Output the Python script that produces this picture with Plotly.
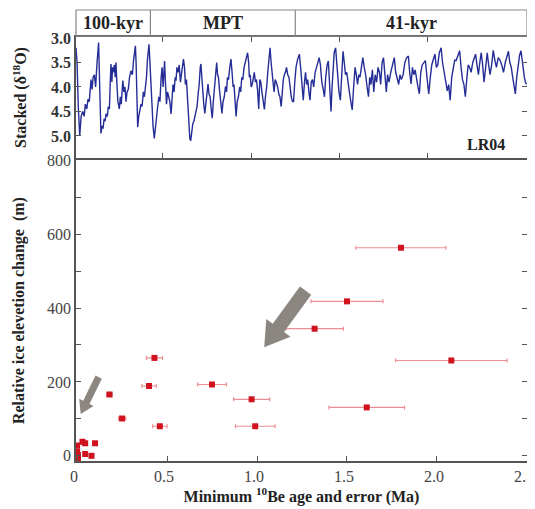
import math
import plotly.graph_objects as go

# LR04 stacked benthic d18O, age in Ma
lr04_age = [0.009, 0.015, 0.022, 0.030, 0.038, 0.047, 0.055, 0.062, 0.070, 0.077, 0.084, 0.090, 0.094, 0.100, 0.106, 0.113, 0.120, 0.128, 0.133, 0.137,
            0.141, 0.146, 0.150, 0.156, 0.162, 0.168, 0.174, 0.179, 0.186, 0.192, 0.198, 0.203, 0.207, 0.212, 0.216, 0.220, 0.226, 0.231, 0.235, 0.240,
            0.246, 0.254, 0.260, 0.265, 0.270, 0.274, 0.280, 0.286, 0.292, 0.298, 0.305, 0.312, 0.320, 0.328, 0.335, 0.340, 0.345, 0.349, 0.353, 0.358,
            0.364, 0.370, 0.377, 0.383, 0.390, 0.396, 0.402, 0.408, 0.413, 0.418, 0.422, 0.426, 0.432, 0.438, 0.445, 0.452,
            0.458, 0.465, 0.471, 0.478, 0.484, 0.490, 0.496, 0.502, 0.506, 0.510, 0.515, 0.521, 0.527, 0.533, 0.540, 0.547, 0.553, 0.558, 0.564, 0.570,
            0.575, 0.580, 0.587, 0.593, 0.600, 0.606, 0.612, 0.617, 0.623, 0.628, 0.634, 0.640, 0.647, 0.653, 0.658,
            0.664, 0.670, 0.676, 0.682, 0.688, 0.694, 0.700, 0.706, 0.712, 0.716, 0.721, 0.727, 0.732, 0.738, 0.744, 0.750, 0.756, 0.762, 0.768, 0.774,
            0.780, 0.786, 0.792, 0.798, 0.805, 0.810, 0.815, 0.822, 0.829, 0.835, 0.841, 0.848, 0.855, 0.861, 0.866, 0.872, 0.879, 0.886, 0.892, 0.898,
            0.903, 0.909, 0.915, 0.921, 0.928, 0.935, 0.941, 0.947, 0.953, 0.960, 0.967, 0.974, 0.980, 0.986, 0.990, 0.995, 1.000, 1.006, 1.012, 1.018,
            1.024, 1.030, 1.036, 1.043, 1.049, 1.055, 1.061, 1.068, 1.075, 1.081, 1.088, 1.094, 1.100, 1.107, 1.113, 1.118, 1.124, 1.130, 1.136, 1.142,
            1.150, 1.157, 1.163, 1.170, 1.176, 1.182, 1.188, 1.194, 1.200, 1.207, 1.214, 1.220, 1.227, 1.234, 1.240, 1.247, 1.254,
            1.262, 1.273, 1.280, 1.288, 1.295, 1.302, 1.308, 1.314, 1.320, 1.327, 1.333, 1.340, 1.347, 1.354, 1.362, 1.370, 1.378, 1.385, 1.392, 1.400,
            1.408, 1.415, 1.422, 1.430, 1.437, 1.444, 1.452, 1.458, 1.464, 1.470, 1.478, 1.484, 1.490, 1.497, 1.505, 1.512, 1.520, 1.527, 1.534, 1.541,
            1.548, 1.556, 1.564, 1.572, 1.580, 1.588, 1.595, 1.602, 1.609, 1.616, 1.624, 1.632, 1.640, 1.648, 1.656, 1.664, 1.671, 1.678, 1.686, 1.694,
            1.702, 1.710, 1.718, 1.726, 1.733, 1.741, 1.749, 1.757, 1.765, 1.772, 1.780, 1.790, 1.800, 1.810, 1.818, 1.826, 1.835, 1.842, 1.850, 1.860,
            1.870, 1.880, 1.890,
            1.897, 1.905, 1.913, 1.920, 1.928, 1.936, 1.944, 1.952, 1.960, 1.968, 1.976, 1.986, 1.995, 2.005, 2.014, 2.022, 2.030, 2.040, 2.048, 2.056,
            2.065, 2.075, 2.083, 2.092, 2.100, 2.110, 2.118, 2.126, 2.135, 2.144, 2.152, 2.160, 2.170, 2.180, 2.188, 2.196, 2.204, 2.212, 2.220, 2.228,
            2.236, 2.245, 2.254, 2.262, 2.270, 2.278, 2.286, 2.294, 2.302, 2.310, 2.318, 2.327, 2.336, 2.344, 2.352, 2.361, 2.370, 2.379, 2.388, 2.398,
            2.408, 2.418, 2.428, 2.438, 2.448, 2.456, 2.464, 2.472, 2.480, 2.488, 2.495, 2.503, 2.511, 2.519, 2.527, 2.534, 2.540, 2.546, 2.552, 2.558]
lr04_d18o = [3.20, 3.50, 4.40, 5.00, 4.60, 4.50, 4.60, 4.35, 4.45, 4.25, 4.30, 3.95, 3.85, 4.05, 3.80, 3.75, 4.00, 3.50, 3.20, 3.09,
             3.70, 4.60, 4.95, 4.80, 4.85, 4.65, 4.70, 4.55, 4.60, 4.40, 4.45, 3.90, 3.53, 3.90, 3.60, 3.70, 3.55, 3.80, 3.50, 3.90,
             4.30, 4.45, 4.20, 4.35, 3.95, 3.87, 4.10, 4.00, 4.30, 4.10, 4.05, 3.80, 3.67, 3.75, 3.45, 3.25, 3.16, 3.50, 4.30, 4.82,
             4.60, 4.45, 4.35, 4.40, 4.10, 4.20, 4.00, 3.80, 3.45, 3.15, 3.13, 3.40, 3.90, 4.40, 4.80, 5.05,
             4.80, 4.50, 4.41, 4.20, 4.30, 3.85, 3.60, 4.00, 3.70, 3.47, 3.90, 4.35, 4.10, 4.20, 4.30, 4.55, 4.10, 3.95, 4.10, 3.80,
             3.87, 3.60, 3.70, 3.55, 3.90, 3.70, 3.60, 3.43, 3.60, 3.95, 3.85, 4.30, 4.70, 5.05, 5.10,
             4.85, 4.75, 4.70, 4.60, 4.50, 4.40, 4.15, 3.95, 3.60, 3.53, 3.80, 4.20, 4.35, 4.54, 4.30, 4.10, 3.94, 4.15, 4.20, 4.45,
             4.64, 4.30, 4.00, 3.70, 3.50, 3.75, 3.80, 4.10, 4.35, 4.54, 4.30, 4.20, 3.99, 4.10, 3.80, 3.85, 3.60, 3.43, 3.70, 4.00,
             3.95, 4.30, 4.60, 4.30, 4.20, 4.00, 4.10, 3.80, 3.85, 3.60, 3.50, 3.35, 3.30, 3.50, 3.80, 3.75, 4.00, 3.95, 3.80, 3.70,
             3.90, 3.85, 4.05, 4.45, 3.85, 3.90, 4.10, 4.30, 4.46, 4.20, 4.00, 3.70, 3.40, 3.20, 3.50, 3.75, 3.90, 4.10, 3.85, 3.90,
             4.00, 4.15, 4.20, 4.40, 4.10, 3.85, 3.75, 3.70, 3.60, 3.75, 3.80, 4.00, 4.20, 4.30, 4.30, 3.90, 3.60,
             3.45, 3.33, 3.60, 4.00, 4.27, 3.90, 3.70, 3.95, 3.85, 4.10, 4.27, 3.90, 3.85, 4.00, 3.70, 3.60, 3.45, 3.40, 3.55, 3.90,
             4.05, 4.20, 3.80, 3.55, 3.47, 3.90, 4.50, 4.00, 3.60, 3.30, 3.20, 3.50, 3.80, 4.10, 4.27, 3.70, 3.27, 3.50, 3.75, 3.70,
             3.85, 4.10, 4.30, 4.47, 4.00, 3.60, 3.75, 3.95, 3.75, 3.80, 3.60, 3.40, 3.60, 3.75, 4.00, 4.20, 3.80, 3.95, 3.65, 4.10,
             3.75, 3.90, 3.60, 3.70, 3.95, 3.50, 3.40, 3.75, 4.10, 3.75, 3.90, 3.70, 3.55, 3.40, 3.70, 3.85, 3.95, 3.75, 3.85, 3.75,
             3.50, 3.40, 3.37,
             3.70, 3.94, 3.60, 3.75, 3.65, 3.85, 4.00, 4.14, 3.70, 3.55, 3.50, 3.46, 3.80, 4.14, 3.80, 3.55, 3.45, 3.33, 3.60, 3.55,
             3.30, 3.20, 3.50, 3.70, 3.85, 4.08, 3.95, 4.27, 3.80, 3.60, 3.45, 3.46, 3.35, 3.26, 3.60, 3.85, 3.95, 4.20, 3.85, 3.55,
             3.60, 3.70, 3.50, 3.40, 3.33, 3.55, 3.75, 3.50, 3.30, 3.55, 3.90, 3.60, 3.30, 3.55, 3.75, 3.55, 3.25, 3.45, 3.60, 3.40,
             3.45, 3.55, 3.70, 3.50, 3.35, 3.27, 3.50, 3.60, 3.80, 3.95, 4.14, 3.80, 3.50, 3.35, 3.26, 3.50, 3.70, 3.80, 3.90, 3.95]

# minimum 10Be ages (Ma), age error (Ma) and relative ice elevation change (m)
be_age = [1.80, 1.50, 1.32, 2.08, 1.61, 0.97, 0.99, 0.75, 0.43, 0.40, 0.46, 0.18, 0.25,
          0.00, 0.03, 0.045, 0.10, 0.00, 0.005, 0.045, 0.08, 0.005]
be_err = [0.25, 0.20, 0.16, 0.31, 0.21, 0.10, 0.11, 0.08, 0.045, 0.04, 0.04, 0.015, 0.02,
          0.005, 0.005, 0.005, 0.005, 0.003, 0.003, 0.005, 0.005, 0.003]
elev = [563, 418, 344, 258, 131, 153, 80, 193, 265, 189, 80, 166, 101,
        28, 38, 34, 34, 12, 2, 5, 0, -8]

x_ticks = [0, 0.5, 1.0, 1.5, 2.0, 2.5]
x_ticktext = ['0', '0.5', '1.0', '1.5', '2.0', '2.5']
y_ticks = [0, 200, 400, 600, 800]
d18o_ticks = [3.0, 3.5, 4.0, 4.5, 5.0]
d18o_ticktext = ['3.0', '3.5', '4.0', '4.5', '5.0']
periods = ['100-kyr', 'MPT', '41-kyr']
period_edges = [0.009, 0.43, 1.25, 2.561]

# arrows: (tail age, tail elev, tip age, tip elev, body width px, head width px, head length px)
arrows = [(1.27, 447, 1.04, 294, 14, 30, 24),
          (0.12, 213, 0.02, 113, 7, 16, 13)]

SERIF = 'Liberation Serif'
AXIS_COL = '#555555'
# the page body adds an 8px margin, so the figure is a bit smaller than the window
W, H = 527, 501
ML, MR, MT, MB = 68, 8, 2, 48
X_RANGE = [-0.006, 2.5005]
Y_RANGE = [-14, 800]
BOT_DOMAIN = [0, 0.667]

fig = go.Figure()

fig.add_trace(go.Scatter(x=lr04_age, y=lr04_d18o, mode='lines',
                         line=dict(color='#252d96', width=1.4),
                         xaxis='x2', yaxis='y2', showlegend=False))

fig.add_trace(go.Scatter(x=be_age, y=elev, mode='markers',
                         marker=dict(symbol='square', size=6, color='#d0121f'),
                         error_x=dict(type='data', array=be_err, color='#ec8e94',
                                      thickness=1.2, width=2),
                         xaxis='x', yaxis='y', showlegend=False))

fig.update_layout(
    width=W, height=H,
    margin=dict(l=ML, r=MR, t=MT, b=MB),
    paper_bgcolor='white', plot_bgcolor='white',
    font=dict(family=SERIF, color='#333333', size=16),
    xaxis=dict(domain=[0, 1], range=X_RANGE, tickvals=x_ticks, ticktext=x_ticktext,
               ticks='inside', ticklen=5, tickcolor=AXIS_COL, showgrid=False, zeroline=False,
               showline=True, linecolor=AXIS_COL, linewidth=1.5, mirror=False, automargin=False,
               ticklabeloverflow='allow', ticklabelshift=-3, tickfont=dict(size=16, color='#444'),
               title=dict(text='<b>Minimum <sup>10</sup>Be age and error (Ma)</b>',
                          font=dict(size=16, color='#222'), standoff=4)),
    yaxis=dict(domain=BOT_DOMAIN, range=Y_RANGE, tickvals=y_ticks,
               ticks='inside', ticklen=5, tickcolor=AXIS_COL, showgrid=False, zeroline=False,
               minor=dict(dtick=100, ticks='inside', ticklen=5, tickcolor=AXIS_COL, showgrid=False),
               showline=True, linecolor=AXIS_COL, linewidth=1.5, mirror='ticks', automargin=False,
               tickfont=dict(size=16, color='#444'),
               title=dict(text='<b>Relative ice elevetion change  (m)</b>',
                          font=dict(size=16, color='#222'), standoff=18)),
    xaxis2=dict(domain=[0, 1], range=[0.009, 2.561], anchor='y2', tickvals=[0.5, 1.0, 1.5, 2.0],
                showticklabels=False, ticks='inside', ticklen=5, tickcolor=AXIS_COL,
                showgrid=False, zeroline=False, showline=True, linecolor=AXIS_COL,
                linewidth=1.5, mirror='ticks', automargin=False),
    yaxis2=dict(domain=[0.672, 0.94], range=[5.45, 2.98], anchor='x2', tickvals=d18o_ticks,
                ticktext=d18o_ticktext, ticks='inside', ticklen=5, tickcolor=AXIS_COL,
                showgrid=False, zeroline=False, showline=True, linecolor=AXIS_COL,
                linewidth=1.5, mirror='ticks', automargin=False,
                tickfont=dict(size=16, color='#333', weight='bold'),
                title=dict(text='<b>Stacked (δ<sup>18</sup>O)</b>',
                           font=dict(size=16, color='#222'), standoff=20)),
)

# period header box above the LR04 panel
fig.add_shape(type='rect', xref='paper', yref='paper', x0=0, x1=1, y0=0.942, y1=1.0,
              line=dict(color='#888888', width=1.2))
for i, name in enumerate(periods):
    if 0 < i:
        fig.add_shape(type='line', xref='x2', yref='paper', x0=period_edges[i], x1=period_edges[i],
                      y0=0.942, y1=1.0, line=dict(color='#888888', width=1.2))
    fig.add_annotation(x=(period_edges[i] + period_edges[i + 1]) / 2, y=0.971, xref='x2', yref='paper',
                       yanchor='middle', text='<b>' + name + '</b>', showarrow=False,
                       font=dict(size=18, color='#222'))

fig.add_annotation(x=2.33, y=5.18, xref='x2', yref='y2', text='<b>LR04</b>', showarrow=False,
                   font=dict(size=16, color='#222'))

# grey block arrows, built in pixel space and mapped back to the data axes
plot_w = W - ML - MR
plot_h = (H - MT - MB) * (BOT_DOMAIN[1] - BOT_DOMAIN[0])
sx = plot_w / (X_RANGE[1] - X_RANGE[0])
sy = plot_h / (Y_RANGE[1] - Y_RANGE[0])
for ta, te, ha, he, bw, hw, hl in arrows:
    tx, ty = ta * sx, -te * sy
    hx, hy = ha * sx, -he * sy
    L = math.hypot(hx - tx, hy - ty)
    dx, dy = (hx - tx) / L, (hy - ty) / L
    nx, ny = -dy, dx
    bx, by = hx - dx * hl, hy - dy * hl
    pts = [(tx + nx * bw / 2, ty + ny * bw / 2), (bx + nx * bw / 2, by + ny * bw / 2),
           (bx + nx * hw / 2, by + ny * hw / 2), (hx, hy),
           (bx - nx * hw / 2, by - ny * hw / 2), (bx - nx * bw / 2, by - ny * bw / 2),
           (tx - nx * bw / 2, ty - ny * bw / 2)]
    path = 'M ' + ' L '.join('%.4f,%.2f' % (px / sx, -py / sy) for px, py in pts) + ' Z'
    fig.add_shape(type='path', path=path, xref='x', yref='y',
                  fillcolor='#8c8680', line=dict(width=0))

fig.write_html('out.html')
